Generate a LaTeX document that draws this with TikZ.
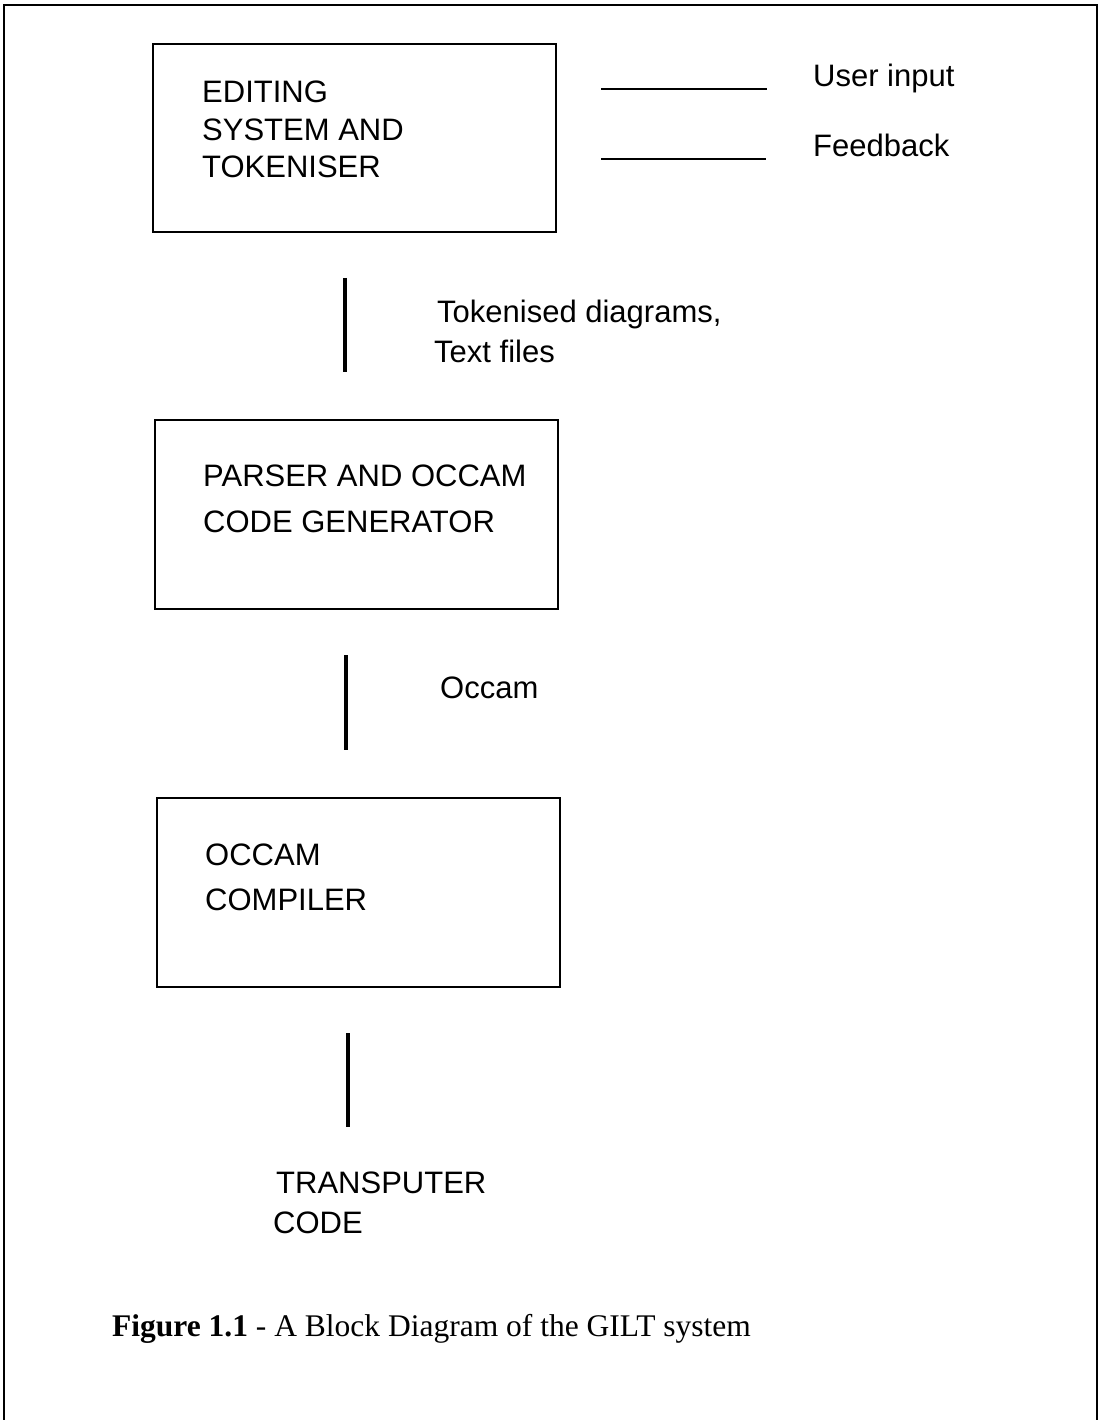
\documentclass[tikz,border=0pt]{standalone}
\usepackage{fontspec}
\setmainfont{Liberation Sans}
\newfontfamily\capfont{Liberation Serif}
\begin{document}
\begin{tikzpicture}[x=1pt,y=-1pt,
  blockbox/.style={draw,line width=2.8pt},
  conn/.style={line width=4pt},
  lbl/.style={anchor=base west,inner sep=0pt,font=\fontsize{31}{37}\selectfont},
  frame/.style={line width=2pt}]
\useasboundingbox (0,0) rectangle (1100,1420);
% frame
\draw[frame] (4,1420) -- (4,5) -- (1097,5) -- (1097,1420);
% blocks
\draw[blockbox] (153,44) rectangle (556,232);
\draw[blockbox] (155,420) rectangle (558,609);
\draw[blockbox] (157,798) rectangle (560,987);
\node[lbl] (t1a) at (202,103) {EDITING};
\node[lbl] (t1b) at (202,141) {SYSTEM AND};
\node[lbl] (t1c) at (202,178) {TOKENISER};
\node[lbl] (t2a) at (203,486) {PARSER AND OCCAM};
\node[lbl] (t2b) at (203,532) {CODE GENERATOR};
\node[lbl] (t3a) at (205,865) {OCCAM};
\node[lbl] (t3b) at (205,910) {COMPILER};
% connectors
\coordinate (c1a) at (345,278); \coordinate (c1b) at (345,372);
\coordinate (c2a) at (346,655); \coordinate (c2b) at (346,750);
\coordinate (c3a) at (348,1033); \coordinate (c3b) at (348,1127);
\draw[conn] (c1a) -- (c1b);
\draw[conn] (c2a) -- (c2b);
\draw[conn] (c3a) -- (c3b);
\node[lbl] (l1a) at (437,322) {Tokenised diagrams,};
\node[lbl] (l1b) at (434,362) {Text files};
\node[lbl] (l2) at (440,698) {Occam};
\node[lbl] (out1) at (276,1193) {TRANSPUTER};
\node[lbl] (out2) at (273,1233) {CODE};
% legend
\coordinate (k1a) at (601,89); \coordinate (k1b) at (767,89);
\coordinate (k2a) at (601,159); \coordinate (k2b) at (766,159);
\draw[line width=2.6pt] (k1a) -- (k1b);
\draw[line width=2.6pt] (k2a) -- (k2b);
\node[lbl] (ui) at (813,87) {User input};
\node[lbl] (fb) at (813,157) {Feedback};
% caption
\node[anchor=base west,inner sep=0pt,font=\capfont\fontsize{31.5}{37}\selectfont] (cap) at (112,1336) {\textbf{Figure 1.1} - A Block Diagram of the GILT system};
\end{tikzpicture}
\end{document}
